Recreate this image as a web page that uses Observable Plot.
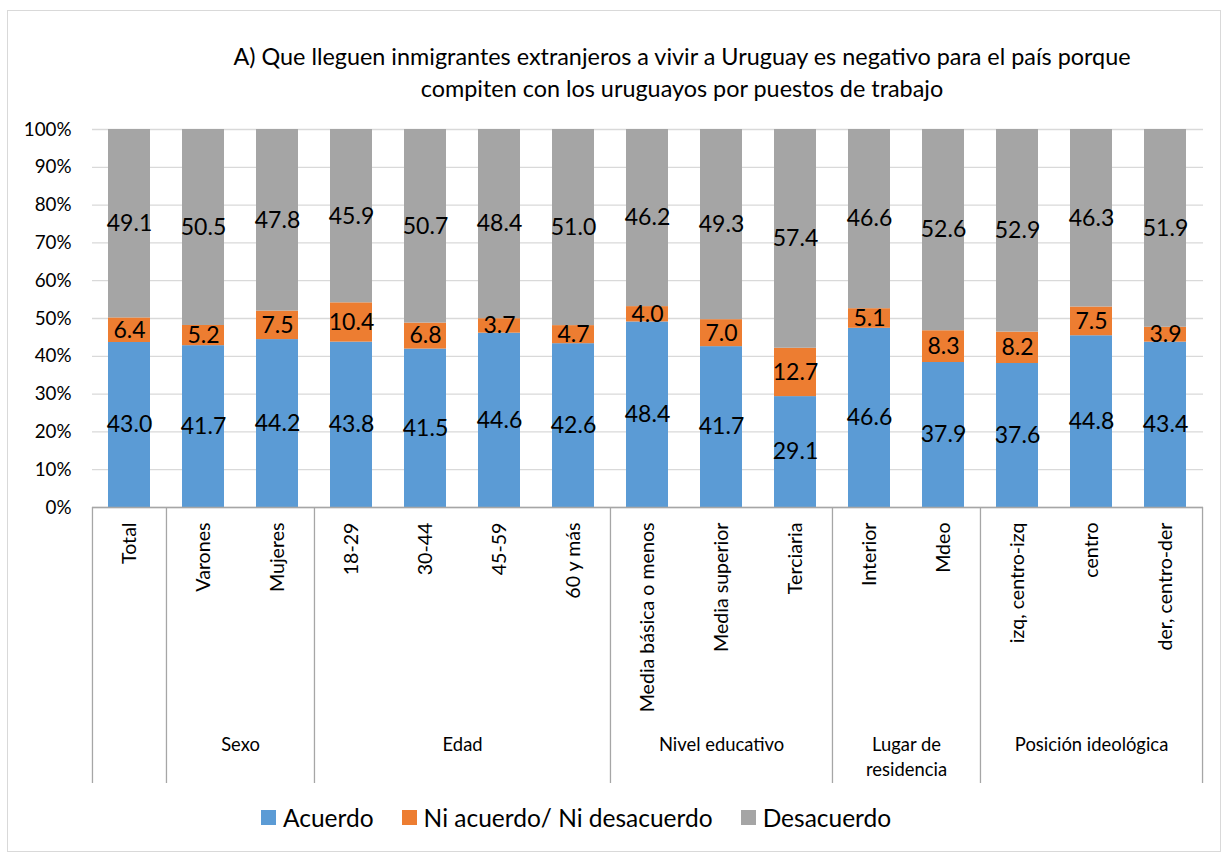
<!DOCTYPE html>
<html>
<head>
<meta charset="utf-8">
<script src="https://cdn.jsdelivr.net/npm/d3@7"></script>
<script src="https://cdn.jsdelivr.net/npm/@observablehq/plot@0.6"></script>
<style>
  body { margin: 0; background: #fff; font-family: Lato, "Open Sans", sans-serif; }
  #wrap { position: relative; width: 1224px; height: 856px; overflow: hidden; }
  #frame { position: absolute; left: 7px; top: 10px; width: 1214px; height: 842px; border: 1px solid #d9d9d9; box-sizing: border-box; }
  #title { position: absolute; left: 132px; width: 1100px; top: 40px; text-align: center; font-size: 23.4px; line-height: 32px; color: #000; }
  #chart { position: absolute; left: 0; top: 110px; }
  #legend { position: absolute; left: 261px; top: 803px; font-size: 24.5px; color: #000; display: flex; align-items: center; white-space: nowrap; }
  #legend .it { display: flex; align-items: center; margin-right: 28px; }
  #legend .sw { width: 15px; height: 15px; margin-right: 7px; }
</style>
</head>
<body>
<div id="wrap">
  <div id="frame"></div>
  <div id="title">A) Que lleguen inmigrantes extranjeros a vivir a Uruguay es negativo para el país porque<br>compiten con los uruguayos por puestos de trabajo</div>
  <div id="chart"></div>
  <div id="legend"></div>
</div>
<script>
const categories = ["Total","Varones","Mujeres","18-29","30-44","45-59","60 y más","Media básica o menos","Media superior","Terciaria","Interior","Mdeo","izq, centro-izq","centro","der, centro-der"];
const acuerdo    = [43.0, 41.7, 44.2, 43.8, 41.5, 44.6, 42.6, 48.4, 41.7, 29.1, 46.6, 37.9, 37.6, 44.8, 43.4];
const niNi       = [6.4, 5.2, 7.5, 10.4, 6.8, 3.7, 4.7, 4.0, 7.0, 12.7, 5.1, 8.3, 8.2, 7.5, 3.9];
const desacuerdo = [49.1, 50.5, 47.8, 45.9, 50.7, 48.4, 51.0, 46.2, 49.3, 57.4, 46.6, 52.6, 52.9, 46.3, 51.9];
const seriesNames = ["Acuerdo", "Ni acuerdo/ Ni desacuerdo", "Desacuerdo"];
const seriesColors = ["#5B9BD5", "#ED7D31", "#A5A5A5"];
const groupNames = ["", "Sexo", "Edad", "Nivel educativo", "Lugar de\nresidencia", "Posición ideológica"];
const groupMembers = [
  ["Total"],
  ["Varones","Mujeres"],
  ["18-29","30-44","45-59","60 y más"],
  ["Media básica o menos","Media superior","Terciaria"],
  ["Interior","Mdeo"],
  ["izq, centro-izq","centro","der, centro-der"]
];

const seriesValues = [acuerdo, niNi, desacuerdo];
const data = [];
categories.forEach((c, i) => {
  seriesNames.forEach((s, k) => data.push({cat: c, series: s, value: seriesValues[k][i]}));
});

const W = 1224, ML = 92, MR = 21, MT = 19, PH = 378, MB = 283;
const step = (W - ML - MR) / categories.length;
const font = "Lato, 'Open Sans', sans-serif";

const groupLabelMarks = groupNames.map((g, gi) => g ? Plot.text([groupMembers[gi][0]], {
  x: d => d, text: () => g, frameAnchor: "bottom",
  dx: step * (groupMembers[gi].length - 1) / 2, dy: 226,
  fontSize: 18.4, fill: "#000", lineHeight: 1.36, lineAnchor: "top"
}) : null).filter(Boolean);

const sepStarts = groupMembers.map(g => g[0]);
const lastCat = categories[categories.length - 1];

const chart = Plot.plot({
  width: W,
  height: MT + PH + MB,
  marginLeft: ML, marginRight: MR, marginTop: MT, marginBottom: MB,
  style: {fontFamily: font, background: "transparent", overflow: "visible"},
  x: {domain: categories, paddingInner: 0.43, paddingOuter: 0.215, label: null},
  y: {domain: [0, 1], label: null},
  color: {domain: seriesNames, range: seriesColors},
  marks: [
    Plot.gridY({ticks: d3.range(0, 1.0001, 0.1), stroke: "#d9d9d9", strokeOpacity: 1, strokeWidth: 1.3}),
    Plot.axisY({ticks: d3.range(0, 1.0001, 0.1), tickFormat: d3.format(".0%"), tickSize: 0, tickPadding: 21, fontSize: 18.8, fill: "#000"}),
    Plot.barY(data, Plot.stackY({x: "cat", y: "value", fill: "series", offset: "normalize"})),
    Plot.text(data, Plot.stackY({x: "cat", y: "value", z: "series", text: d => d.value.toFixed(1), offset: "normalize", fontSize: 23, fill: "#000"})),
    Plot.ruleY([0], {stroke: "#a6a6a6", strokeWidth: 1.3}),
    Plot.axisX({tickRotate: -90, tickSize: 0, tickPadding: 15, fontSize: 19.6, fill: "#000", label: null}),
    Plot.ruleX(sepStarts, {x: d => d, dx: -step / 2, insetTop: PH, insetBottom: -276, stroke: "#a6a6a6", strokeWidth: 1.3}),
    Plot.ruleX([lastCat], {x: d => d, dx: step / 2, insetTop: PH, insetBottom: -276, stroke: "#a6a6a6", strokeWidth: 1.3}),
    ...groupLabelMarks
  ]
});
document.getElementById("chart").appendChild(chart);

const legend = document.getElementById("legend");
seriesNames.forEach((s, k) => {
  const it = document.createElement("div");
  it.className = "it";
  it.innerHTML = `<div class="sw" style="background:${seriesColors[k]}"></div><span>${s}</span>`;
  legend.appendChild(it);
});
</script>
</body>
</html>
